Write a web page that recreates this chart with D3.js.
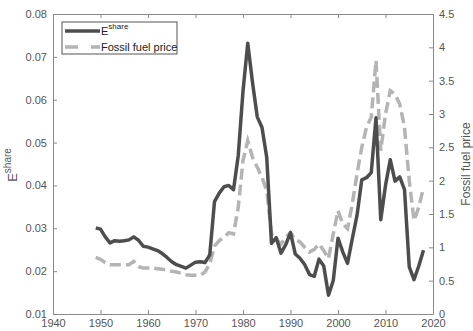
<html>
<head>
<script src="https://d3js.org/d3.v7.min.js"></script>
<style>
  body { margin: 0; background: #fff; }
  text { font-family: "Liberation Sans", Arial, sans-serif; }
</style>
</head>
<body>
<div id="chart"></div>
<script>
// years 1949..2018
var years = d3.range(1949, 2019);

var eShare = [0.0301, 0.0298, 0.0280, 0.0266, 0.0271, 0.0270, 0.0271, 0.0273, 0.0280, 0.0272,
  0.0258, 0.0256, 0.0252, 0.0248, 0.0241, 0.0232, 0.0222, 0.0215, 0.0211, 0.0207,
  0.0214, 0.0221, 0.0222, 0.0220, 0.0238, 0.0362, 0.0382, 0.0397, 0.0400, 0.0390,
  0.0470, 0.0620, 0.0732, 0.0640, 0.0560, 0.0535, 0.0465, 0.0265, 0.0278, 0.0242,
  0.0262, 0.0290, 0.0240, 0.0230, 0.0215, 0.0192, 0.0188, 0.0228, 0.0212, 0.0144,
  0.0178, 0.0277, 0.0245, 0.0218, 0.0275, 0.0330, 0.0413, 0.0418, 0.0430, 0.0558,
  0.0320, 0.0400, 0.0460, 0.0410, 0.0420, 0.0390, 0.0210, 0.0180, 0.0212, 0.0249];

var fuelPrice = [0.85, 0.82, 0.77, 0.74, 0.74, 0.74, 0.74, 0.74, 0.79, 0.71,
  0.69, 0.69, 0.69, 0.68, 0.67, 0.66, 0.64, 0.63, 0.61, 0.59,
  0.58, 0.58, 0.58, 0.63, 0.75, 1.02, 1.10, 1.15, 1.22, 1.20,
  1.60, 2.30, 2.60, 2.35, 2.20, 2.05, 1.85, 1.20, 1.12, 1.05,
  1.15, 1.22, 1.12, 1.08, 1.00, 0.93, 0.97, 1.05, 0.95, 0.83,
  1.20, 1.55, 1.35, 1.28, 1.65, 2.10, 2.50, 2.80, 2.95, 3.80,
  2.45, 3.00, 3.35, 3.30, 3.15, 2.80, 2.00, 1.40, 1.60, 1.90];

var xTicks = [1940, 1950, 1960, 1970, 1980, 1990, 2000, 2010, 2020];
var leftTicks = [0.01, 0.02, 0.03, 0.04, 0.05, 0.06, 0.07, 0.08];
var rightTicks = [0, 0.5, 1, 1.5, 2, 2.5, 3, 3.5, 4, 4.5];

var w = 473, h = 331;
var pLeft = 53, pRight = 433, pTop = 14, pBottom = 314;
var axisColor = "#8a8a8a", textColor = "#555";

var svg = d3.select("#chart").append("svg")
  .attr("width", w).attr("height", h);

var x = d3.scaleLinear().domain([1940, 2020]).range([pLeft, pRight]);
var yL = d3.scaleLinear().domain([0.01, 0.08]).range([pBottom, pTop]);
var yR = d3.scaleLinear().domain([0, 4.5]).range([pBottom, pTop]);

function styleAxis(g) {
  g.select(".domain").attr("stroke", axisColor);
  g.selectAll(".tick line").attr("stroke", axisColor);
  g.selectAll(".tick text").attr("fill", textColor).attr("font-size", 11);
}

// bottom
svg.append("g").attr("transform", "translate(0," + pBottom + ")")
  .call(d3.axisBottom(x).tickValues(xTicks).tickFormat(d3.format("d")).tickSizeInner(-4).tickSizeOuter(0).tickPadding(5))
  .call(styleAxis);
// top
svg.append("g").attr("transform", "translate(0," + pTop + ")")
  .call(d3.axisTop(x).tickValues(xTicks).tickFormat("").tickSizeInner(-4).tickSizeOuter(0))
  .call(styleAxis);
// left
svg.append("g").attr("transform", "translate(" + pLeft + ",0)")
  .call(d3.axisLeft(yL).tickValues(leftTicks).tickFormat(d3.format(".2f")).tickSizeInner(-4).tickSizeOuter(0).tickPadding(6))
  .call(styleAxis);
// right
svg.append("g").attr("transform", "translate(" + pRight + ",0)")
  .call(d3.axisRight(yR).tickValues(rightTicks).tickFormat(d3.format("")).tickSizeInner(-4).tickSizeOuter(0).tickPadding(6))
  .call(styleAxis);

// axis labels
var lab = svg.append("text")
  .attr("transform", "translate(17,165) rotate(-90)")
  .attr("text-anchor", "middle")
  .attr("fill", textColor)
  .attr("font-size", 13);
lab.append("tspan").text("E");
lab.append("tspan").attr("font-size", 10).attr("dy", -6).text("share");

svg.append("text")
  .attr("transform", "translate(470,164) rotate(-90)")
  .attr("text-anchor", "middle")
  .attr("fill", textColor)
  .attr("font-size", 12)
  .text("Fossil fuel price");

// lines
var lineE = d3.line().x(function(d, i) { return x(years[i]); }).y(function(d) { return yL(d); });
var lineF = d3.line().x(function(d, i) { return x(years[i]); }).y(function(d) { return yR(d); });

svg.append("path").datum(fuelPrice)
  .attr("d", lineF)
  .attr("fill", "none")
  .attr("stroke", "#b4b4b4")
  .attr("stroke-width", 3.5)
  .attr("stroke-dasharray", "11,5");

svg.append("path").datum(eShare)
  .attr("d", lineE)
  .attr("fill", "none")
  .attr("stroke", "#4d4d4d")
  .attr("stroke-width", 3.5)
  .attr("stroke-linejoin", "round");

// legend
var lg = svg.append("g");
lg.append("rect")
  .attr("x", 62).attr("y", 22).attr("width", 115).attr("height", 32)
  .attr("fill", "#fff").attr("stroke", "#555").attr("stroke-width", 1);
lg.append("line").attr("x1", 65).attr("x2", 100).attr("y1", 31).attr("y2", 31)
  .attr("stroke", "#4d4d4d").attr("stroke-width", 3.5);
lg.append("line").attr("x1", 65).attr("x2", 100).attr("y1", 47).attr("y2", 47)
  .attr("stroke", "#b4b4b4").attr("stroke-width", 3.5).attr("stroke-dasharray", "13,13");
var t1 = lg.append("text").attr("x", 101).attr("y", 35).attr("font-size", 11).attr("fill", "#222");
t1.append("tspan").text("E");
t1.append("tspan").attr("font-size", 8).attr("dy", -6).text("share");
lg.append("text").attr("x", 101).attr("y", 51).attr("font-size", 11).attr("fill", "#222")
  .text("Fossil fuel price");
</script>
</body>
</html>
